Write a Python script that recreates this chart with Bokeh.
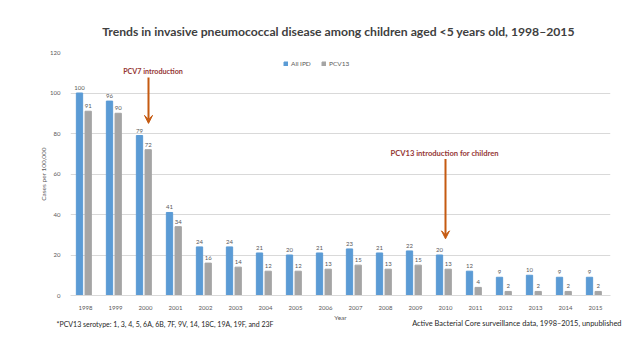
from bokeh.plotting import figure
from bokeh.models import (ColumnDataSource, LabelSet, Label, Arrow, VeeHead, Legend, LegendItem, FactorRange)
from bokeh.transform import dodge
from bokeh.core.properties import value
from bokeh.layouts import column
from bokeh.embed import file_html
from bokeh.resources import INLINE

years = [str(y) for y in range(1998, 2016)]
all_ipd = [100, 96, 79, 41, 24, 24, 21, 20, 21, 23, 21, 22, 20, 12, 9, 10, 9, 9]
pcv13 = [91, 90, 72, 34, 16, 14, 12, 12, 13, 15, 13, 15, 13, 4, 2, 2, 2, 2]
y_ticks = [0, 20, 40, 60, 80, 100, 120]

TITLE = "Trends in invasive pneumococcal disease among children aged <5 years old, 1998–2015"
NOTE_L = "*PCV13 serotype: 1, 3, 4, 5, 6A, 6B, 7F, 9V, 14, 18C, 19A, 19F, and 23F"
NOTE_R = "Active Bacterial Core surveillance data, 1998–2015, unpublished"

FONT = "Lato"
TXT = "#595959"
W = 624


def blank(h):
    f = figure(width=W, height=h, x_range=(0, W), y_range=(0, h),
               output_backend="svg", toolbar_location=None,
               x_axis_type=None, y_axis_type=None,
               min_border_left=0, min_border_right=0,
               min_border_top=0, min_border_bottom=0)
    f.frame_align = False
    f.outline_line_color = None
    f.xgrid.visible = False
    f.ygrid.visible = False
    return f


# ---- header
head = blank(40)
head.add_layout(Label(x=338, y=9, text=TITLE, text_align="center", text_baseline="middle",
                      text_font=FONT, text_font_size="12.2px", text_font_style="bold",
                      text_color="#404040"))

# ---- main chart
src = ColumnDataSource(dict(year=years, all_ipd=all_ipd, pcv13=pcv13,
                            all_lbl=[str(v) for v in all_ipd],
                            pcv_lbl=[str(v) for v in pcv13]))

p = figure(width=W, height=272, x_range=FactorRange(*years), y_range=(0, 120),
           output_backend="svg", toolbar_location=None,
           min_border_left=70, min_border_right=14, min_border_top=12, min_border_bottom=16)
p.frame_align = False
p.outline_line_color = None

OFF_A, OFF_B = -0.2, 0.09
r1 = p.vbar(x=dodge('year', OFF_A, range=p.x_range), top='all_ipd', width=0.21,
            source=src, color="#5B9BD5")
r2 = p.vbar(x=dodge('year', OFF_B, range=p.x_range), top='pcv13', width=0.21,
            source=src, color="#A5A5A5")

for col, lbl, off in (("all_ipd", "all_lbl", OFF_A), ("pcv13", "pcv_lbl", OFF_B)):
    p.add_layout(LabelSet(x=dodge('year', off, range=p.x_range), y=col, text=lbl,
                          source=src, y_offset=3, text_align="center",
                          text_baseline="bottom", text_font_size="6px",
                          text_color=TXT, text_font=value(FONT)))

p.yaxis.ticker = y_ticks
p.yaxis.major_label_text_font_size = "6px"
p.yaxis.major_label_text_color = TXT
p.yaxis.major_label_text_font = FONT
p.yaxis.axis_line_color = None
p.yaxis.major_tick_line_color = None
p.yaxis.minor_tick_line_color = None
p.yaxis.axis_label = "Cases per 100,000"
p.yaxis.axis_label_text_font_size = "6.5px"
p.yaxis.axis_label_text_font_style = "normal"
p.yaxis.axis_label_text_color = TXT
p.yaxis.axis_label_text_font = FONT
p.yaxis.axis_label_standoff = 0
p.yaxis.major_label_standoff = 4

p.xaxis.major_label_text_font_size = "6px"
p.xaxis.major_label_text_color = TXT
p.xaxis.major_label_text_font = FONT
p.xaxis.axis_line_color = "#D9D9D9"
p.xaxis.major_tick_line_color = None
p.xaxis.minor_tick_line_color = None
p.xaxis.major_label_standoff = 4

p.xgrid.grid_line_color = None
p.ygrid.grid_line_color = "#D9D9D9"
p.ygrid.grid_line_width = 1

legend = Legend(items=[LegendItem(label="All IPD", renderers=[r1]),
                       LegendItem(label="PCV13", renderers=[r2])],
                orientation="horizontal", location=(213, 228),
                label_text_font_size="6.5px", label_text_color=TXT, label_text_font=FONT,
                glyph_width=5, glyph_height=5, spacing=10, padding=0, margin=0,
                label_standoff=3, border_line_color=None, background_fill_alpha=0)
p.add_layout(legend)

ann_color = "#953735"
arr_color = "#C55A11"
p.add_layout(Label(x=2.75, y=110.7, text="PCV7 introduction", text_align="center",
                   text_baseline="middle", text_font=FONT, text_font_size="7.2px",
                   text_font_style="bold", text_color=ann_color))
p.add_layout(Arrow(x_start=2.6, y_start=107.7, x_end=2.6, y_end=85,
                   line_color=arr_color, line_width=2,
                   end=VeeHead(size=8, fill_color=arr_color, line_color=arr_color)))
p.add_layout(Label(x=12.47, y=70.3, text="PCV13 introduction for children", text_align="center",
                   text_baseline="middle", text_font=FONT, text_font_size="7.6px",
                   text_font_style="bold", text_color=ann_color))
p.add_layout(Arrow(x_start=12.5, y_start=67.4, x_end=12.5, y_end=28,
                   line_color=arr_color, line_width=2,
                   end=VeeHead(size=8, fill_color=arr_color, line_color=arr_color)))

# ---- footer (x axis title + notes)
foot = blank(39)
foot.add_layout(Label(x=340, y=34, text="Year", text_align="center", text_baseline="middle",
                      text_font=FONT, text_font_size="6.5px", text_color=TXT))
foot.add_layout(Label(x=56, y=28, text=NOTE_L, text_align="left", text_baseline="middle",
                      text_font=FONT, text_font_size="7px", text_color="#262626"))
foot.add_layout(Label(x=621, y=28, text=NOTE_R, text_align="right", text_baseline="middle",
                      text_font=FONT, text_font_size="7.4px", text_color="#262626"))

layout = column(head, p, foot, spacing=0)
open("out.html", "w").write(file_html(layout, INLINE))
